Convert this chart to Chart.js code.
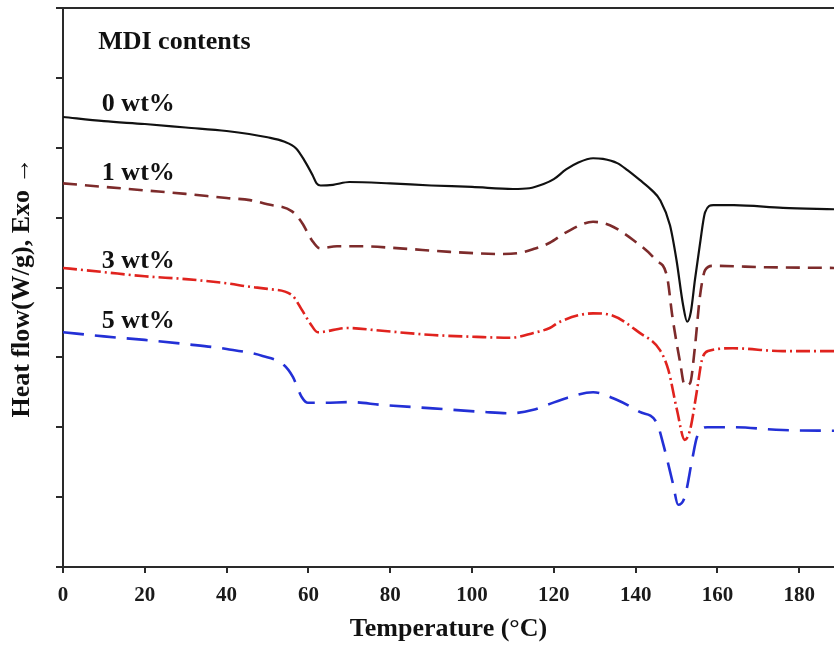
<!DOCTYPE html>
<html>
<head>
<meta charset="utf-8">
<script src="https://cdn.jsdelivr.net/npm/chart.js@4/dist/chart.umd.min.js"></script>
<style>
  html, body { margin: 0; padding: 0; background: #ffffff; }
  #wrap { width: 834px; height: 645px; position: relative; }
</style>
</head>
<body>
<div id="wrap"><canvas id="c" width="834" height="645"></canvas></div>
<script>
// Series names (MDI contents)
const seriesNames = ["0 wt%", "1 wt%", "3 wt%", "5 wt%"];
const annotationTitle = "MDI contents";

// Temperature (°C) and heat flow (arbitrary offset units, W/g)
const temp0 = [0, 10, 20, 30, 40, 50, 54, 57, 59, 61, 62, 63, 66, 70, 80, 90, 100, 110, 114, 117.5, 120, 123, 126, 129.6, 132, 135.5, 138, 141, 144, 146, 148.4, 150, 151.6, 152.6, 153.5, 154.5, 155.7, 157, 159, 164, 176, 188.5];
const heat0 = [6.44, 6.38, 6.34, 6.29, 6.24, 6.15, 6.09, 5.99, 5.82, 5.61, 5.49, 5.46, 5.47, 5.51, 5.49, 5.46, 5.44, 5.41, 5.42, 5.48, 5.55, 5.69, 5.79, 5.85, 5.84, 5.78, 5.68, 5.54, 5.39, 5.25, 4.89, 4.39, 3.75, 3.51, 3.65, 4.11, 4.61, 5.08, 5.18, 5.18, 5.14, 5.12];

const temp1 = [0, 10, 20, 30, 40, 45.7, 50, 56, 58.5, 60.8, 62.8, 67, 73, 82.4, 94.6, 106.8, 111, 115, 119, 123, 129.6, 133.7, 139.4, 145, 147.7, 149, 150.9, 152, 153.3, 154.5, 155.7, 157, 158.9, 172, 188.5];
const heat1 = [5.49, 5.44, 5.39, 5.34, 5.28, 5.25, 5.19, 5.09, 4.92, 4.68, 4.56, 4.59, 4.59, 4.56, 4.51, 4.48, 4.49, 4.55, 4.64, 4.79, 4.94, 4.89, 4.68, 4.39, 4.15, 3.58, 2.92, 2.60, 2.63, 3.15, 3.86, 4.25, 4.31, 4.29, 4.28];

const temp3 = [0, 10, 20, 30, 40, 45.7, 50, 56, 58.4, 60.4, 62.3, 69.4, 78, 90.4, 102.7, 109.3, 115, 119, 121.5, 129.6, 133.7, 141, 146, 148, 150.1, 152, 153.3, 155, 156.2, 157.7, 163.8, 176, 188.5];
const heat3 = [4.28, 4.22, 4.16, 4.12, 4.06, 4.01, 3.98, 3.89, 3.68, 3.49, 3.36, 3.42, 3.38, 3.32, 3.29, 3.28, 3.35, 3.42, 3.51, 3.63, 3.61, 3.35, 3.10, 2.82, 2.25, 1.82, 1.96, 2.53, 2.96, 3.09, 3.13, 3.09, 3.09];

const temp5 = [0, 10, 20, 30, 40, 48.8, 54, 56.2, 58.4, 59.9, 63.6, 70.2, 78, 90.4, 102.7, 109.3, 115, 118.4, 123.2, 129.6, 135.5, 141, 145.2, 146.7, 149.1, 150.4, 152, 153.8, 155, 157.5, 163.8, 176, 188.5];
const heat5 = [3.36, 3.30, 3.25, 3.19, 3.12, 3.02, 2.89, 2.72, 2.43, 2.35, 2.35, 2.36, 2.32, 2.27, 2.22, 2.20, 2.25, 2.32, 2.42, 2.50, 2.39, 2.22, 2.06, 1.77, 1.20, 0.89, 1.00, 1.53, 1.86, 2.00, 2.00, 1.96, 1.95];

// Axis ticks
const xTickValues = [0, 20, 40, 60, 80, 100, 120, 140, 160, 180];
const xMin = 0, xMax = 188.5;
const yMin = 0, yMax = 8, yStep = 1;

const toPts = (t, h) => t.map((v, i) => ({ x: v, y: h[i] }));

const SERIF = "'Liberation Serif', 'Times New Roman', serif";
const AXIS_COLOR = '#2a2a2a';

const topBorder = {
  id: 'topBorder',
  afterDraw(chart) {
    const { ctx, chartArea } = chart;
    ctx.save();
    ctx.strokeStyle = AXIS_COLOR;
    ctx.lineWidth = 2;
    ctx.beginPath();
    ctx.moveTo(chartArea.left, chartArea.top);
    ctx.lineTo(chart.width, chartArea.top);
    ctx.stroke();
    ctx.restore();
  }
};

const textLabels = {
  id: 'textLabels',
  afterDatasetsDraw(chart, args, opts) {
    const { ctx, scales } = chart;
    ctx.save();
    ctx.fillStyle = '#111';
    ctx.font = 'bold 26px ' + SERIF;
    ctx.textAlign = 'left';
    ctx.textBaseline = 'alphabetic';
    opts.items.forEach(it => {
      ctx.fillText(it.text, scales.x.getPixelForValue(it.x), scales.y.getPixelForValue(it.y));
    });
    ctx.restore();
  }
};

new Chart(document.getElementById('c'), {
  type: 'line',
  data: {
    datasets: [
      { label: seriesNames[0], data: toPts(temp0, heat0), borderColor: '#111111', borderWidth: 2.2, borderDash: [] },
      { label: seriesNames[1], data: toPts(temp1, heat1), borderColor: '#7d2b2b', borderWidth: 2.6, borderDash: [14, 8] },
      { label: seriesNames[2], data: toPts(temp3, heat3), borderColor: '#e0231e', borderWidth: 2.6, borderDash: [14, 4, 2, 4] },
      { label: seriesNames[3], data: toPts(temp5, heat5), borderColor: '#2330d6', borderWidth: 2.6, borderDash: [21, 11] }
    ]
  },
  options: {
    responsive: false,
    animation: false,
    elements: {
      point: { radius: 0, hoverRadius: 0 },
      line: { cubicInterpolationMode: 'monotone', fill: false }
    },
    layout: { padding: { top: 8, right: 0, bottom: 0, left: 0 } },
    plugins: {
      legend: { display: false },
      tooltip: { enabled: false },
      textLabels: {
        items: [
          { text: annotationTitle, x: 8.6, y: 7.41 },
          { text: seriesNames[0], x: 9.5, y: 6.52 },
          { text: seriesNames[1], x: 9.5, y: 5.54 },
          { text: seriesNames[2], x: 9.5, y: 4.28 },
          { text: seriesNames[3], x: 9.5, y: 3.42 }
        ]
      }
    },
    scales: {
      x: {
        type: 'linear',
        min: xMin, max: xMax,
        afterFit(s) { s.height = 78; },
        afterBuildTicks(s) { s.ticks = xTickValues.map(v => ({ value: v })); },
        ticks: {
          includeBounds: false,
          padding: 10,
          color: '#1a1a1a',
          font: { family: SERIF, size: 21, weight: 'bold' },
          callback: v => String(v),
          maxRotation: 0, autoSkip: false
        },
        grid: { drawOnChartArea: false, drawTicks: true, tickLength: 6, color: AXIS_COLOR, lineWidth: 2 },
        border: { display: true, color: AXIS_COLOR, width: 2 },
        title: {
          display: true, text: 'Temperature (°C)', color: '#111',
          font: { family: SERIF, size: 26, weight: 'bold' },
          padding: { top: 0, bottom: 0 }
        }
      },
      y: {
        type: 'linear',
        min: yMin, max: yMax,
        afterFit(s) { s.width = 63; },
        ticks: { stepSize: yStep, display: false, includeBounds: false },
        grid: { drawOnChartArea: false, drawTicks: true, tickLength: 7, color: AXIS_COLOR, lineWidth: 2 },
        border: { display: true, color: AXIS_COLOR, width: 2 },
        title: {
          display: true, text: 'Heat flow(W/g), Exo →', color: '#111',
          font: { family: SERIF, size: 26, weight: 'bold' },
          padding: { top: 7, bottom: 0 }
        }
      }
    }
  },
  plugins: [topBorder, textLabels]
});
</script>
</body>
</html>
